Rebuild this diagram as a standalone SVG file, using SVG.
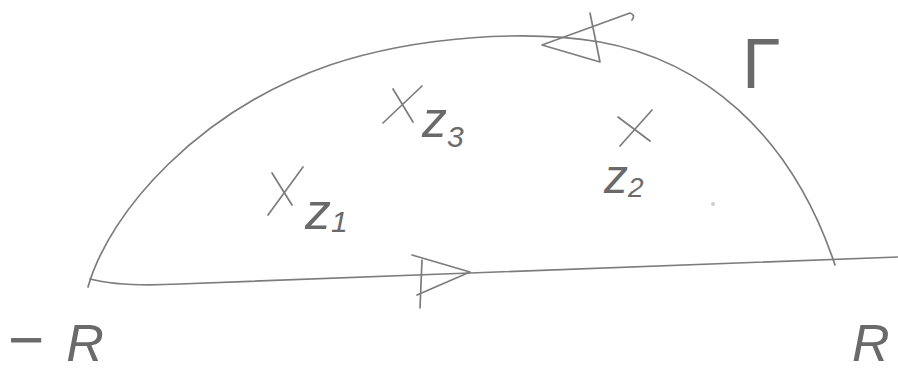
<svg xmlns="http://www.w3.org/2000/svg" width="898" height="376" viewBox="0 0 898 376">
<style>
.s{fill:none;stroke:#7c7c7c;stroke-width:1.7;stroke-linecap:round;stroke-linejoin:round}
.t{font-family:"Liberation Sans",Arial,sans-serif;fill:#6a6a6a;font-style:italic}
.u{font-family:"Liberation Sans",Arial,sans-serif;fill:#6a6a6a;font-style:normal}
</style>
<rect width="898" height="376" fill="#fff"/>
<g id="contour">
<path class="s" d="M88,287 C110,210 200,110 330,65 C420,35 530,30 600,42 C700,60 790,130 835,265"/>
<path class="s" d="M90,279 Q120,287 180,284 L470,273 L898,257"/>
</g>
<g id="arrow-top">
<path class="s" d="M630,13 Q636,15 632,20 M630,13 L542,45 L600,62 M590,13 L600,62"/>
</g>
<g id="arrow-bottom">
<path class="s" d="M412,255 L470,272 L417,295 M422,260 L420,308"/>
</g>
<g id="z1">
<path class="s" d="M268,215 L303,167 M272,173 L292,205"/>
<text class="t" x="305" y="229" font-size="52">z<tspan font-size="30" dy="3">1</tspan></text>
</g>
<g id="z3">
<path class="s" d="M383,123 L422,86 M393,89 L413,122"/>
<text class="t" x="422" y="137" font-size="50">z<tspan font-size="30" dy="10">3</tspan></text>
</g>
<g id="z2">
<path class="s" d="M618,117 L650,141 M620,146 L652,110"/>
<text class="t" x="604" y="193" font-size="48">z<tspan font-size="28" dy="4">2</tspan></text>
</g>
<g id="labels">
<text class="t" x="8" y="361" font-size="52"><tspan font-size="62" font-style="normal">−</tspan><tspan dx="22">R</tspan></text>
<text class="t" x="852" y="361" font-size="52">R</text>
<text class="u" x="742" y="88" font-size="70">Γ</text>
</g>
<circle cx="713" cy="204" r="2" fill="#cfcfcf"/>
</svg>
